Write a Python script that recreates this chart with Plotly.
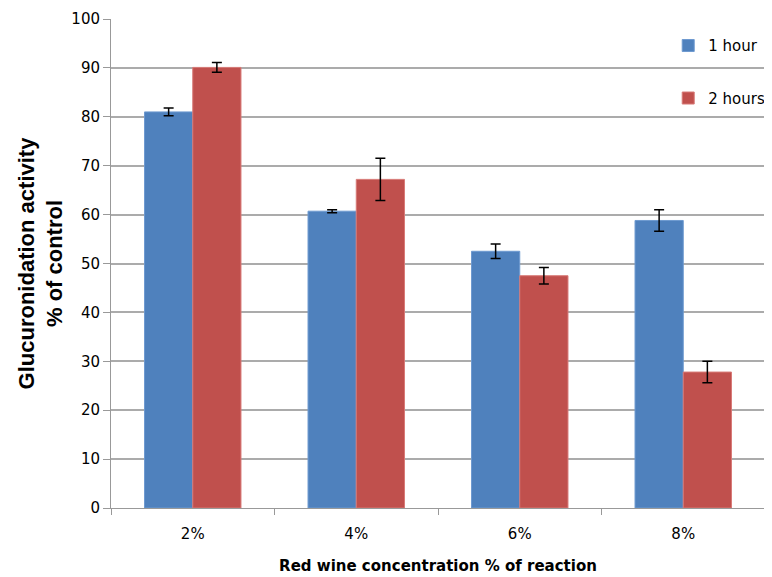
import plotly.graph_objects as go

categories = ["2%", "4%", "6%", "8%"]
hour1 = [81.0, 60.7, 52.5, 58.8]
hour1_err = [0.8, 0.3, 1.5, 2.2]
hour2 = [90.1, 67.2, 47.5, 27.8]
hour2_err = [1.0, 4.3, 1.7, 2.2]
y_ticks = list(range(0, 101, 10))

fig = go.Figure()
fig.add_trace(go.Bar(
    x=categories, y=hour1, name="1 hour", legendgroup="a",
    marker=dict(color="#4F81BD", line=dict(color="#6E9AD0", width=1)),
    error_y=dict(type="data", array=hour1_err, color="black", thickness=1.5, width=5),
))
fig.add_trace(go.Bar(
    x=categories, y=hour2, name="2 hours", legendgroup="b",
    marker=dict(color="#C0504D", line=dict(color="#D87A77", width=1)),
    error_y=dict(type="data", array=hour2_err, color="black", thickness=1.5, width=5),
))

# page body has an 8px default margin, so the figure is 764x569
fig.update_layout(
    width=764, height=569,
    margin=dict(l=103, r=7, t=11, b=69, autoexpand=False),
    paper_bgcolor="white", plot_bgcolor="white",
    barmode="group", bargap=0.41, bargroupgap=0,
    font=dict(family="DejaVu Sans", size=15, color="black"),
    legend=dict(x=0.852, y=0.979, xanchor="left", yanchor="top",
                tracegroupgap=30, itemwidth=30,
                font=dict(size=15, family="DejaVu Sans"),
                bgcolor="rgba(0,0,0,0)"),
    xaxis=dict(
        type="category", tickson="boundaries", ticks="outside", ticklen=6,
        tickcolor="#999999", showline=True, linecolor="#999999", linewidth=1,
        tickfont=dict(size=15, family="DejaVu Sans"), ticklabelstandoff=12,
        title=dict(text="<b>Red wine concentration % of reaction</b>",
                   font=dict(size=15, family="DejaVu Sans"), standoff=18),
    ),
    yaxis=dict(
        range=[0, 100], tickvals=y_ticks, ticks="outside", ticklen=7,
        tickcolor="#999999", showline=True, linecolor="#999999", linewidth=1,
        showgrid=True, gridcolor="#ABABAB", gridwidth=1.5,
        tickfont=dict(size=15, family="DejaVu Sans"),
        title=dict(text="<b>Glucuronidation activity<br>% of control</b>",
                   font=dict(size=22, family="Liberation Sans"), standoff=2),
    ),
)

fig.write_html("out.html")
